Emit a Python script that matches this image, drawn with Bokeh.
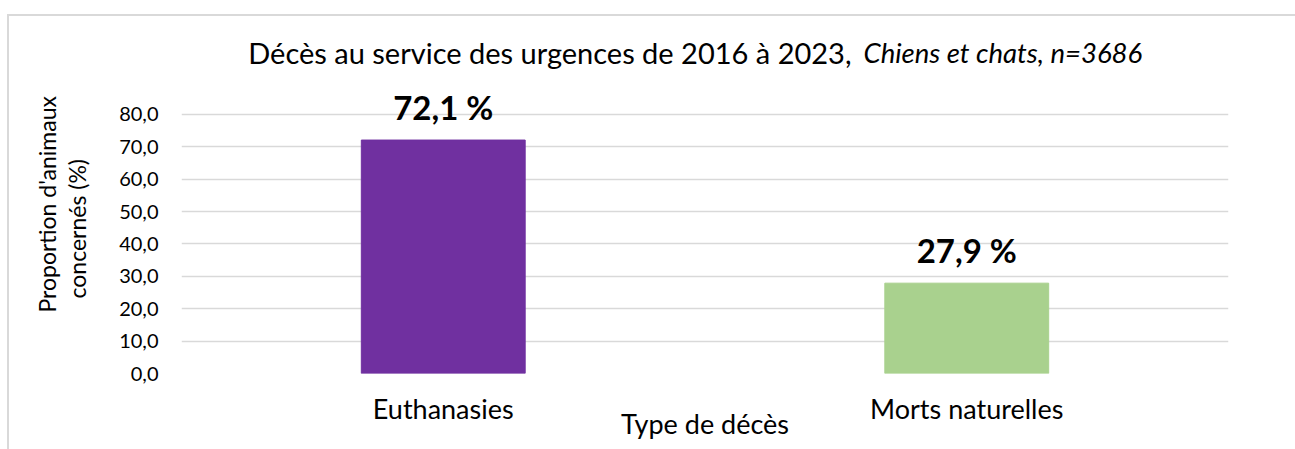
import math
from bokeh.plotting import figure
from bokeh.models import (Label, FixedTicker, FactorRange, Range1d, ColumnDataSource,
                          CustomJSTickFormatter, Title)
from bokeh.core.properties import value
from bokeh.embed import file_html
from bokeh.resources import INLINE

# ---- data ----
categories = ["Euthanasies", "Morts naturelles"]
proportions = [72.1, 27.9]
bar_colors = ["#7030A0", "#A9D18E"]
value_labels = ["72,1 %", "27,9 %"]
y_ticks = [0, 10, 20, 30, 40, 50, 60, 70, 80]

title_main = "Décès au service des urgences de 2016 à 2023,"
title_italic = "Chiens et chats, n=3686"
y_title_lines = ["Proportion d'animaux", "concernés (%)"]
x_title = "Type de décès"

FONT = "Lato"

src = ColumnDataSource(dict(cat=categories, val=proportions, color=bar_colors, lab=value_labels))

# frame: x 181..1228, y 0..373 (0 at y=373, 80 at y=114)
p = figure(width=1295, height=449, output_backend="svg", toolbar_location=None,
           x_range=FactorRange(*categories, range_padding=0), y_range=Range1d(0, 115.2),
           min_border_left=181, min_border_right=67, min_border_top=0, min_border_bottom=76)
p.outline_line_color = None
p.background_fill_color = None
p.border_fill_color = None
p.styles = {
    "background": "linear-gradient(#d9d9d9, #d9d9d9) 8px 14px / 100% 2px no-repeat, "
                  "linear-gradient(#d9d9d9, #d9d9d9) 7px 14px / 2px 100% no-repeat, white"
}

p.vbar(x="cat", top="val", width=0.313, color="color", source=src)
p.text(x="cat", y="val", text="lab", source=src, text_align="center", text_baseline="alphabetic",
       y_offset=-33, text_font=value(FONT), text_font_style="bold", text_font_size="33px",
       text_color="black")

# axes
p.yaxis.ticker = FixedTicker(ticks=y_ticks)
p.yaxis.formatter = CustomJSTickFormatter(code="return tick.toFixed(1).replace('.', ',');")
for ax in (p.xaxis[0], p.yaxis[0]):
    ax.axis_line_color = None
    ax.major_tick_line_color = None
    ax.minor_tick_line_color = None
    ax.major_tick_out = 0
    ax.major_tick_in = 0
    ax.minor_tick_out = 0
    ax.major_label_text_font = FONT
    ax.major_label_text_color = "black"
p.yaxis.major_label_text_font_size = "20px"
p.yaxis.major_label_standoff = 23
p.xaxis.major_label_text_font_size = "27px"
p.xaxis.major_label_standoff = 18
p.xaxis.axis_label = x_title
p.xaxis.axis_label_text_font = FONT
p.xaxis.axis_label_text_font_size = "27px"
p.xaxis.axis_label_text_font_style = "normal"
p.xaxis.axis_label_text_color = "black"
p.xaxis.axis_label_standoff = -21

p.xgrid.grid_line_color = None
p.ygrid.grid_line_color = "#d9d9d9"
p.ygrid.grid_line_width = 1.5

# chart title (inside the frame area; x from frame left, y from frame bottom)
p.add_layout(Label(x=670, y=321, x_units="screen", y_units="screen", text=title_main,
                   text_align="right", text_baseline="alphabetic", text_font=FONT,
                   text_font_size="29px", text_color="black"))
p.add_layout(Label(x=682, y=321, x_units="screen", y_units="screen", text=title_italic,
                   text_align="left", text_baseline="alphabetic", text_font=FONT,
                   text_font_style="italic", text_font_size="27.5px", text_color="black"))

# y-axis title, two lines, as left-side titles
spacer = Title(text=" ", text_font_size="10px", standoff=13)
line2 = Title(text=y_title_lines[1], align="left", offset=75, standoff=0,
              text_font=FONT, text_font_size="23px", text_font_style="normal", text_color="black")
line1 = Title(text=y_title_lines[0], align="left", offset=61, standoff=0,
              text_font=FONT, text_font_size="23px", text_font_style="normal", text_color="black")
p.add_layout(spacer, "left")
p.add_layout(line2, "left")
p.add_layout(line1, "left")

open("out.html", "w").write(file_html(p, INLINE))
